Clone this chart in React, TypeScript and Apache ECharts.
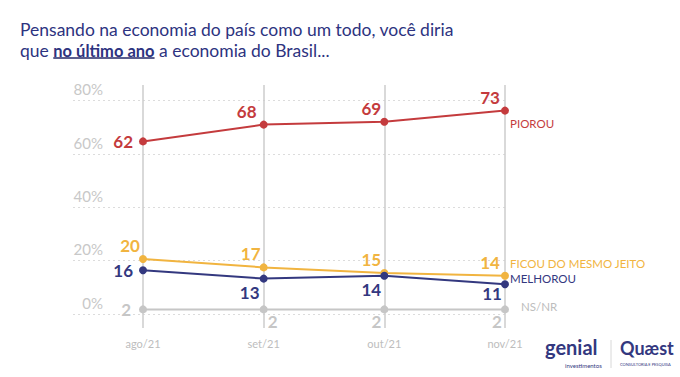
import React, { useEffect, useRef } from "react";
import * as echarts from "echarts";

const categories = ["ago/21", "set/21", "out/21", "nov/21"];
const piorou = [62, 68, 69, 73];
const ficou = [20, 17, 15, 14];
const melhorou = [16, 13, 14, 11];
const nsnr = [2, 2, 2, 2];
const yTicks = [0, 20, 40, 60, 80];

const titleLine1 = "Pensando na economia do país como um todo, você diria";
const titleLine2a = "que ";
const titleLine2b = "no último ano";
const titleLine2c = " a economia do Brasil...";

const FONT = "Lato";
const RED = "#c43b3d";
const YELLOW = "#f1b440";
const NAVY = "#33387f";
const GRAY = "#c6c6c6";
const TITLE = "#2d3380";
const TSIZE = 17.5;
const TBSIZE = 16.5;

type LP = { position: string; offset: number[]; distance: number };

function buildData(values: number[], color: string, lps: LP[]) {
  return values.map((v, i) => ({
    value: v,
    label: {
      show: true,
      position: lps[i].position,
      offset: lps[i].offset,
      distance: lps[i].distance,
      color,
      fontFamily: FONT,
      fontWeight: "bold",
      fontSize: 17,
    },
  }));
}

function series(
  name: string,
  values: number[],
  color: string,
  lps: LP[],
  endOffset: number[],
  endColor?: string
) {
  return {
    name,
    type: "line",
    xAxisIndex: 1,
    yAxisIndex: 1,
    data: buildData(values, color, lps),
    symbol: "circle",
    symbolSize: 8,
    lineStyle: { color, width: 2 },
    itemStyle: { color },
    endLabel: {
      show: true,
      formatter: name,
      color: endColor || color,
      fontFamily: FONT,
      fontSize: 11.5,
      distance: 5,
      offset: endOffset,
    },
    z: 5,
  };
}

function measure(text: string, font: string) {
  const c = document.createElement("canvas");
  const ctx = c.getContext("2d");
  if (!ctx) return text.length * 8;
  ctx.font = font;
  return ctx.measureText(text).width;
}

export default function App() {
  const ref = useRef<HTMLDivElement>(null);
  useEffect(() => {
    document.body.style.margin = "0";
    if (!ref.current) return;
    const chart = echarts.init(ref.current, undefined, { renderer: "svg" });
    const top = (o: number[]): LP => ({ position: "top", offset: o, distance: 1 });
    const left = (d: number): LP => ({ position: "left", offset: [0, 0], distance: d });
    const bottom = (o: number[], d = 1): LP => ({ position: "bottom", offset: o, distance: d });

    const wA = measure(titleLine2a, `${TSIZE}px ${FONT}`);
    const wB = measure(titleLine2b, `bold ${TBSIZE}px ${FONT}`);
    const x0 = 20;
    const y2 = 41;

    chart.setOption({
      animation: false,
      textStyle: { fontFamily: FONT },
      grid: [
        { left: 73, right: 175, top: 100.7, bottom: 63 },
        { left: 143, right: 175, top: 85, bottom: 49 },
      ],
      xAxis: [
        { gridIndex: 0, type: "category", data: categories, show: false },
        {
          gridIndex: 1,
          type: "category",
          data: categories,
          boundaryGap: false,
          axisLine: { show: false },
          axisTick: { show: false },
          axisLabel: { color: "#bdbdbd", fontSize: 11, margin: 10, fontFamily: FONT },
          splitLine: { show: true, lineStyle: { color: "#cccccc", width: 1.5 } },
        },
      ],
      yAxis: [
        {
          gridIndex: 0,
          type: "value",
          min: yTicks[0],
          max: yTicks[yTicks.length - 1],
          interval: 20,
          axisLine: { show: false },
          axisTick: { show: false },
          axisLabel: {
            inside: true,
            margin: 30,
            align: "right",
            verticalAlign: "bottom",
            padding: [0, 0, 4, 0],
            color: "#c8c8c8",
            fontSize: 15,
            fontFamily: FONT,
            formatter: (v: number) => v + "%",
          },
          splitLine: { show: true, lineStyle: { color: "#dcdcdc", type: [2, 3], width: 1 } },
        },
        { gridIndex: 1, type: "value", min: -4.64, max: 82.14, show: false },
      ],
      series: [
        series("PIOROU", piorou, RED, [left(6), top([-17, 0]), top([-13, 0]), top([-15, 0])], [0, 13]),
        series("FICOU DO MESMO JEITO", ficou, YELLOW, [top([-13, 0]), top([-13, 0]), top([-13, 0]), top([-15, 0])], [0, -12]),
        series("MELHOROU", melhorou, NAVY, [left(6), bottom([-14, 0]), bottom([-13, 0]), bottom([-13, -4])], [0, -6]),
        series("NS/NR", nsnr, GRAY, [left(8), bottom([9, 0], 0), bottom([-8, 0], 0), bottom([-8, 0], 0)], [11, -3], "#bdbdbd"),
      ],
      graphic: [
        {
          type: "text",
          x: x0,
          y: 20,
          style: { text: titleLine1, fill: TITLE, fontFamily: FONT, fontSize: TSIZE },
        },
        {
          type: "text",
          x: x0,
          y: y2,
          style: { text: titleLine2a, fill: TITLE, fontFamily: FONT, fontSize: TSIZE },
        },
        {
          type: "text",
          x: x0 + wA,
          y: y2 + 1,
          style: { text: titleLine2b, fill: TITLE, fontFamily: FONT, fontSize: TBSIZE, fontWeight: "bold" },
        },
        {
          type: "text",
          x: x0 + wA + wB,
          y: y2,
          style: { text: titleLine2c, fill: TITLE, fontFamily: FONT, fontSize: TSIZE },
        },
        { type: "rect", shape: { x: x0 + wA, y: 57, width: wB, height: 2 }, style: { fill: "#5b5e8d" } },
        {
          type: "text",
          x: 545,
          y: 337,
          style: { text: "genial", fill: NAVY, fontFamily: FONT, fontSize: 20, fontWeight: "bold" },
        },
        {
          type: "text",
          x: 565,
          y: 362,
          style: { text: "investimentos", fill: NAVY, fontFamily: FONT, fontSize: 6 },
        },
        { type: "line", shape: { x1: 611, y1: 340, x2: 611, y2: 368 }, style: { stroke: "#d8d8d8", lineWidth: 1 } },
        {
          type: "text",
          x: 620,
          y: 339,
          style: { text: "Quæst", fill: NAVY, fontFamily: FONT, fontSize: 18, fontWeight: "bold" },
        },
        {
          type: "text",
          x: 620,
          y: 362,
          style: { text: "CONSULTORIA E PESQUISA", fill: NAVY, fontFamily: FONT, fontSize: 4 },
        },
      ],
    });
    return () => chart.dispose();
  }, []);
  return <div ref={ref} style={{ width: 680, height: 377 }} />;
}
